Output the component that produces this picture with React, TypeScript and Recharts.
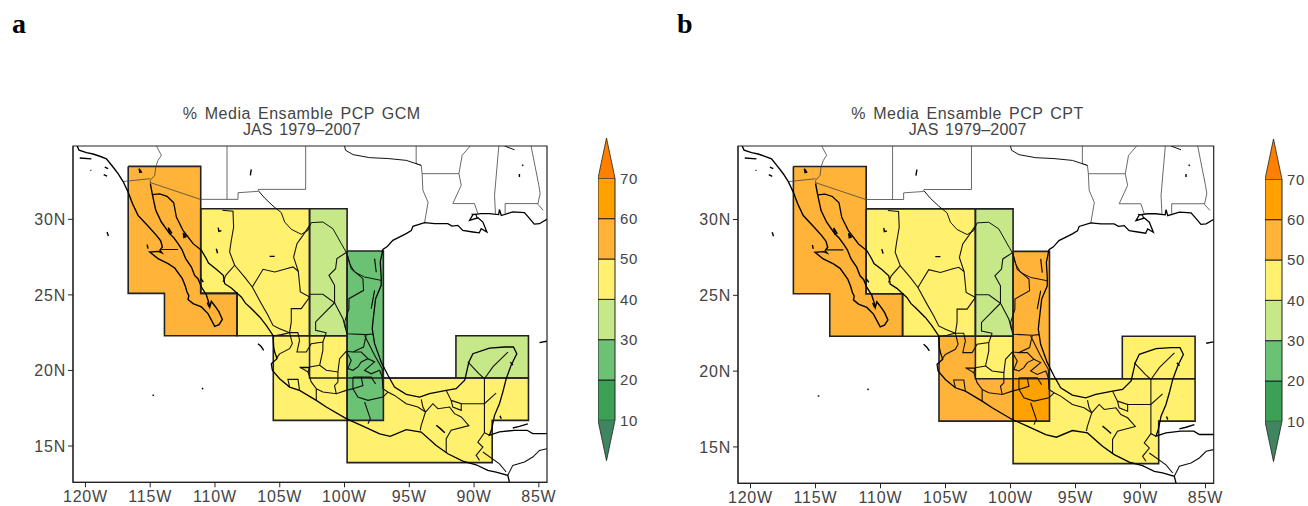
import React from "react";
import { ComposedChart, XAxis, YAxis, Line, Area, ReferenceArea } from "recharts";

type P = [number, number];

const lonTicks = [-120, -115, -110, -105, -100, -95, -90, -85];
const latTicks = [15, 20, 25, 30];
const levelTicks = [10, 20, 30, 40, 50, 60, 70];
const lonDomain: P = [-120.96, -84.37];
const latDomain: P = [12.6, 34.85];

const ORANGE = "#ffb338";
const DEEP = "#ffa200";
const YELLOW = "#fff06e";
const LGREEN = "#c6e888";
const GREEN = "#6cc274";
const DGREEN = "#3ca055";

// colour bands: lower level, upper level, colour
const bandLevels: P[] = [[10, 20], [20, 30], [30, 40], [40, 50], [50, 60], [60, 70]];
const bandColors = [DGREEN, GREEN, LGREEN, YELLOW, ORANGE, DEEP];
const tipHigh = [{ x: 0, v: 70 }, { x: 0.5, v: 80 }, { x: 1, v: 70 }];
const tipLow = [{ x: 0, v: 10 }, { x: 0.5, v: 0 }, { x: 1, v: 10 }];

// region cells: lon0, lon1, lat0, lat1
const cellsNW = [[-116.7, -111.1, 25.1, 33.5], [-113.9, -108.3, 22.3, 25.1]];
const cellsNorth = [[-111.1, -102.7, 25.1, 30.7], [-108.3, -102.7, 22.3, 25.1]];
const cellsEast = [[-102.7, -99.8, 22.3, 30.7]];
const cellsGulf = [[-99.8, -97, 19.5, 27.9]];
const cellsGulfSouth = [[-99.8, -97, 16.7, 19.5]];
const cellsBox = [[-102.7, -99.8, 19.5, 22.3]];
const cellsWest = [[-105.5, -102.7, 16.7, 22.3], [-102.7, -99.8, 16.7, 19.5]];
const cellsSouth = [[-97, -85.8, 16.7, 19.5], [-99.8, -88.6, 13.9, 16.7]];
const cellsYuc = [[-91.4, -85.8, 19.5, 22.3]];
const allCells = [cellsNW, cellsNorth, cellsEast, cellsGulf, cellsGulfSouth, cellsBox, cellsWest, cellsSouth, cellsYuc];
const colorsA = [ORANGE, YELLOW, LGREEN, GREEN, GREEN, YELLOW, YELLOW, YELLOW, LGREEN];
const colorsB = [ORANGE, YELLOW, LGREEN, ORANGE, DEEP, YELLOW, ORANGE, YELLOW, YELLOW];

const outlines: P[][] = [
  [[-116.7, 33.5], [-111.1, 33.5], [-111.1, 25.1], [-108.3, 25.1], [-108.3, 22.3], [-113.9, 22.3], [-113.9, 25.1], [-116.7, 25.1], [-116.7, 33.5]],
  [[-111.1, 30.7], [-102.7, 30.7], [-102.7, 22.3], [-108.3, 22.3], [-108.3, 25.1], [-111.1, 25.1], [-111.1, 30.7]],
  [[-102.7, 30.7], [-99.8, 30.7], [-99.8, 22.3], [-102.7, 22.3], [-102.7, 30.7]],
  [[-99.8, 27.9], [-97, 27.9], [-97, 16.7], [-99.8, 16.7], [-99.8, 27.9]],
  [[-105.5, 22.3], [-99.8, 22.3], [-99.8, 16.7], [-105.5, 16.7], [-105.5, 22.3]],
  [[-102.7, 22.3], [-102.7, 19.5], [-85.8, 19.5]],
  [[-97, 19.5], [-85.8, 19.5], [-85.8, 16.7], [-88.6, 16.7], [-88.6, 13.9], [-99.8, 13.9], [-99.8, 16.7]],
  [[-91.4, 19.5], [-91.4, 22.3], [-85.8, 22.3], [-85.8, 19.5]],
];

// coast lines
const pacificCoast: P[] = [[-120.64, 34.85], [-120.49, 34.57], [-119.92, 34.41], [-119.41, 34.32], [-118.89, 34.17], [-118.38, 34], [-117.87, 33.46], [-117.48, 33.02], [-117.09, 32.5], [-116.71, 31.81], [-116.37, 31.04], [-115.94, 30.26], [-115.17, 29.56], [-114.52, 28.94], [-114.19, 28.57], [-114.06, 28.17], [-114.25, 27.95], [-114.1, 27.78], [-114.37, 27.88], [-115.04, 27.84], [-114.4, 27.4], [-113.62, 27.07], [-113.11, 26.78], [-112.52, 26.07], [-112.3, 25.6], [-112.16, 25.19], [-112.02, 24.95], [-112.08, 24.7], [-111.69, 24.42], [-111.05, 24.2], [-110.54, 23.76], [-110.02, 22.92], [-109.69, 23.03], [-109.43, 23.38], [-109.69, 23.87], [-109.95, 24.2], [-110.28, 24.57], [-110.4, 24.2], [-110.5, 24.55], [-110.67, 25.01], [-111.05, 25.52], [-111.3, 26.05], [-111.57, 26.29], [-111.82, 26.84], [-112.26, 27.4], [-112.55, 28], [-112.85, 28.39], [-113.2, 28.8], [-113.5, 29.05], [-114.14, 29.82], [-114.57, 30.59], [-114.83, 31.63], [-114.99, 32.36]];
const mainlandCoast: P[] = [[-114.83, 31.63], [-114.27, 31.68], [-113.7, 31.52], [-113.19, 31.1], [-113.1, 30.7], [-112.98, 30.15], [-112.47, 29.27], [-112.08, 28.83], [-111.69, 28.39], [-111.05, 27.95], [-110.67, 27.4], [-110.5, 27.1], [-109.9, 26.7], [-109.36, 26.29], [-109.25, 25.74], [-108.74, 25.46], [-107.97, 24.86], [-107.65, 24.45], [-107.32, 24.2], [-106.55, 23.54], [-106.04, 22.98], [-105.52, 22.32], [-105.47, 21.55], [-105.39, 21.22], [-105.21, 20.78], [-105.65, 20.45], [-105.57, 20.01], [-105.01, 19.45], [-104.24, 18.9], [-103.47, 18.68], [-102.18, 18.02], [-101.41, 17.58], [-99.87, 16.81], [-98.71, 16.37], [-97.29, 15.81], [-96.47, 15.64], [-95.24, 16.08], [-94.08, 15.92], [-92.92, 15.04], [-92.02, 14.49], [-90.87, 14], [-89.84, 13.76], [-88.94, 13.39], [-88.3, 13.28], [-87.4, 13.06], [-87.27, 12.62]];
const gulfCoast: P[] = [[-84.39, 30], [-84.95, 29.71], [-85.35, 29.68], [-85.59, 29.93], [-86.11, 30.44], [-87.01, 30.49], [-87.9, 30.25], [-88.04, 30.65], [-88.1, 30.31], [-88.81, 30.38], [-89.45, 30.38], [-90.09, 30.31], [-90.35, 29.93], [-89.7, 30.1], [-89.32, 29.82], [-89.01, 29.16], [-89.45, 29.38], [-89.6, 29.1], [-90.09, 29.16], [-90.87, 29.27], [-91.25, 29.6], [-91.7, 29.55], [-92.03, 29.71], [-93.05, 29.71], [-93.82, 29.78], [-94.72, 29.54], [-94.85, 29.25], [-95.24, 29.05], [-96.27, 28.61], [-96.7, 28.2], [-97.04, 28.01], [-97.24, 27.18], [-97.17, 26.18], [-97.17, 25.63], [-97.6, 24.75], [-97.81, 23.21], [-97.86, 22.76], [-97.68, 21.77], [-97.17, 20.56], [-96.65, 19.68], [-96.14, 18.9], [-95.24, 18.42], [-94.21, 18.24], [-93.44, 18.46], [-92.15, 18.68], [-91.38, 18.79], [-90.72, 19.35], [-90.4, 20.56], [-90.09, 21.11], [-88.81, 21.48], [-87.65, 21.55], [-86.96, 21.55], [-86.7, 21.1], [-87.14, 20.34], [-87.52, 19.45], [-87.78, 18.57], [-88.04, 17.8], [-88.42, 17.03], [-88.63, 16.15], [-88.81, 15.71], [-88.04, 15.93], [-86.9, 16.04], [-85.9, 16.04], [-85.47, 15.82], [-84.39, 15.82]];
const lagoons: P[][] = [
  [[-97.68, 27.4], [-97.55, 26.5]],
  [[-97.68, 25.3], [-97.94, 24.09]],
  [[-90.2, 30.35], [-89.85, 30.3], [-89.75, 30.05]],
];

// small islands and lakes
const islands: P[][] = [
  [[-120.44, 34.06], [-119.54, 34]],
  [[-118.51, 33.46], [-118.25, 33.35]],
  [[-118.59, 32.96], [-118.33, 32.85]],
  [[-119.61, 33.26], [-119.55, 33.23]],
  [[-118.33, 29.16], [-118.23, 28.9]],
  [[-110.99, 18.84], [-110.92, 18.75]],
  [[-114.83, 18.37], [-114.7, 18.35]],
  [[-106.68, 21.77], [-106.45, 21.6], [-106.24, 21.33]],
  [[-115.24, 28.32], [-115.17, 28.06]],
  [[-113.6, 29.45], [-113.35, 29.1], [-113.5, 29.05], [-113.6, 29.45]],
  [[-112.45, 29.1], [-112.25, 28.85], [-112.4, 28.8], [-112.45, 29.1]],
  [[-111.1, 26.1], [-110.9, 25.85]],
  [[-110.6, 24.5], [-110.45, 24.2]],
  [[-107.2, 33.3], [-107.27, 32.9]],
  [[-86.3, 33.6], [-86.2, 33.55]],
  [[-86.5, 33.0], [-86.5, 32.8]],
  [[-105.78, 27.55], [-105.39, 27.55]],
  [[-109.75, 29.45], [-109.7, 29.2], [-109.5, 29.25]],
  [[-109.9, 28.05], [-109.8, 27.75]],
  [[-115.86, 33.35], [-115.68, 33.13], [-115.8, 33.1], [-115.86, 33.35]],
  [[-103.4, 20.2], [-102.7, 20.2]],
  [[-92.92, 16.37], [-92.6, 16.15], [-92.26, 15.88]],
  [[-87.01, 16.19], [-86.5, 16.3], [-85.85, 16.47]],
  [[-84.95, 21.84], [-84.39, 21.93]],
  [[-87.2, 20.55], [-87.0, 20.35]],
  [[-88.0, 17.0], [-87.9, 16.8]],
];

// international and US state borders
const usBorders: P[][] = [
  [[-114.52, 34.85], [-114.14, 34.23], [-114.4, 33.9], [-114.57, 33.46], [-114.65, 32.91], [-114.99, 32.58], [-114.99, 32.36]],
  [[-117.09, 32.5], [-114.99, 32.69]],
  [[-114.99, 32.43], [-111.13, 31.32], [-108.22, 31.32], [-108.22, 31.76], [-106.68, 31.85]],
  [[-109.07, 34.85], [-109.07, 31.32]],
  [[-103, 34.85], [-103, 31.98], [-106.68, 31.98]],
  [[-94.47, 34.85], [-94.47, 33.68], [-94.08, 33.57], [-94.01, 33.02], [-93.95, 31.92], [-93.55, 31.13], [-93.82, 29.78]],
  [[-94.01, 33.02], [-91.17, 33.02]],
  [[-90.3, 34.85], [-90.92, 34.23], [-91.17, 33.02], [-90.99, 32.25], [-91.64, 31.04], [-89.97, 31.04], [-89.71, 30.38]],
  [[-88.09, 34.85], [-88.42, 31.59], [-88.35, 30.38]],
  [[-85.6, 34.85], [-85, 32.25], [-84.9, 31.7], [-85.08, 31], [-84.66, 30.6]],
  [[-87.6, 30.38], [-87.6, 31.04], [-85.08, 31.04]],
];
const riverBorders: P[][] = [
  [[-106.68, 31.92], [-106.17, 31.41], [-105.52, 30.88], [-104.88, 30.44], [-104.62, 29.82], [-104.11, 29.34], [-103.34, 29.01], [-102.82, 29.27], [-102.57, 29.78], [-101.67, 29.82], [-100.9, 29.38], [-100.25, 28.39], [-99.81, 27.73], [-99.61, 27.07], [-99.22, 26.51], [-98.45, 26.18], [-97.17, 25.96]],
  [[-100, 34.85], [-99.92, 34.57], [-99.35, 34.28], [-98.07, 34.08], [-96.65, 34.02], [-95.24, 33.9], [-94.08, 33.57]],
  [[-87.65, 34.85], [-86.88, 34.6]],
];

// Mexican states and Central American borders
const stateLines: P[][] = [
  [[-109.43, 30.6], [-108.61, 30.53], [-108.56, 29.49], [-108.76, 28.5], [-108.87, 27.84], [-108.48, 26.96], [-109.17, 26.29], [-109.38, 25.85]],
  [[-108.48, 26.96], [-107.71, 26.18], [-107.12, 25.52], [-106.42, 24.42], [-105.91, 23.65], [-105.52, 22.98], [-105.01, 22.76], [-104.24, 22.5]],
  [[-107.12, 25.52], [-106.29, 26.69], [-105.39, 26.51], [-104.49, 26.73], [-103.98, 26.85], [-103.57, 26.56]],
  [[-102.69, 29.6], [-103.21, 28.94], [-103.67, 28.39], [-103.93, 27.5], [-103.57, 26.56], [-103.41, 25.19], [-102.69, 24.86], [-103.34, 24.09], [-104.11, 24.09], [-104.11, 23.21], [-104.24, 22.5]],
  [[-102.69, 25.04], [-101.67, 25.04], [-100.77, 24.48], [-102.23, 23.21], [-102.23, 22.65], [-101.41, 22.5]],
  [[-99.87, 27.8], [-100.59, 27.4], [-100.69, 26.73], [-101.2, 26.29], [-100.77, 25.63], [-100.77, 24.48], [-100.12, 23.42], [-99.92, 22.76]],
  [[-99.81, 27.73], [-99.48, 26.73], [-98.58, 26.07], [-98.53, 25.3], [-99.66, 24.75], [-99.66, 24.09], [-99.99, 23.21], [-99.92, 22.76], [-99.81, 22.43], [-98.32, 22.37], [-97.81, 22.41]],
  [[-105.52, 22.28], [-104.88, 22.37], [-104.24, 22.5], [-104.03, 21.77], [-104.24, 21.44], [-105.01, 21.1], [-105.27, 20.78]],
  [[-104.24, 22.5], [-103.6, 22.5], [-103.47, 22], [-103.67, 21.22], [-102.95, 21.22], [-102.57, 21.77], [-101.67, 21.88], [-101.41, 22.5]],
  [[-101.67, 21.88], [-101.67, 21.33], [-101.92, 20.34], [-101.41, 20.01], [-100.51, 19.9], [-100.38, 20.78], [-99.87, 21.26]],
  [[-101.92, 20.34], [-102.69, 20.23], [-102.82, 19.9], [-103.47, 20.23]],
  [[-102.82, 19.9], [-102.57, 19.24], [-102.18, 18.79], [-102.18, 18.02]],
  [[-104.24, 18.9], [-104.37, 19.41], [-103.59, 19.41], [-103.47, 18.68]],
  [[-102.18, 18.79], [-101.67, 18.57], [-100.64, 18.46], [-100.77, 19], [-100.51, 19.23], [-100.51, 19.9]],
  [[-100.64, 18.46], [-99.87, 18.68], [-99.35, 18.79], [-98.97, 18.24], [-98.19, 18.02], [-97.04, 18.24], [-96.65, 18.57]],
  [[-98.45, 17.91], [-98.01, 16.81], [-98.19, 16.47]],
  [[-99.87, 21.26], [-99.48, 20.67], [-99.74, 20.12], [-99.35, 20.01], [-98.97, 20.23], [-98.71, 20.56], [-98.19, 20.78], [-97.68, 20.56], [-98.45, 20.01], [-97.94, 19.78], [-97.29, 20.01], [-97.09, 19.56]],
  [[-98.32, 22.37], [-98.53, 21.55], [-99.35, 21.22], [-99.87, 21.26]],
  [[-99.35, 21.22], [-98.71, 21.22], [-98.19, 20.78]],
  [[-98.45, 22.32], [-97.68, 21], [-97.09, 20.12], [-97.09, 19.56], [-97.04, 18.79], [-96.65, 18.57], [-96.14, 18.35], [-95.24, 17.8], [-94.34, 17.58], [-93.75, 17.25], [-94.08, 16.37], [-94.16, 16.04]],
  [[-99.35, 19.56], [-98.71, 19.56], [-98.58, 19], [-99.35, 18.79], [-99.35, 19.56]],
  [[-98.71, 19.56], [-97.94, 19.56], [-97.6, 19.1]],
  [[-93.75, 17.25], [-93.18, 17.8], [-92.79, 17.47], [-91.89, 17.58], [-91.51, 17.14], [-90.99, 16.92], [-90.4, 16.35], [-91.77, 16.04], [-92.15, 15.49], [-92.15, 14.56]],
  [[-94.08, 18.09], [-93.95, 17.58], [-93.75, 17.25]],
  [[-92.15, 18.68], [-91.77, 18.02], [-91.64, 17.58], [-90.99, 17.36], [-90.99, 17.8], [-91.77, 18.02]],
  [[-90.48, 20.56], [-89.63, 19.79], [-89.2, 19.45], [-88.55, 20.23], [-87.39, 21.21]],
  [[-89.2, 19.45], [-89.2, 15.88], [-88.81, 15.71]],
  [[-90.99, 17.8], [-89.2, 17.8], [-88.3, 18.5]],
  [[-89.2, 15.88], [-89.71, 15.26], [-89.32, 14.93], [-89.84, 14.38], [-89.58, 14.05]],
  [[-89.32, 14.6], [-88.04, 13.82], [-87.52, 13.28]],
  [[-87.4, 13.06], [-87.01, 13.72], [-86.11, 13.94], [-85.47, 14.27], [-84.95, 14.71], [-84.39, 14.82]],
  [[-114.14, 28], [-112.85, 28]],
];

const FONT = "'Liberation Sans', sans-serif";
const INK = "#444";

const toPts = (pts: P[]) => pts.map(([lon, lat]) => ({ lon, lat }));

function polyLine(key: string, pts: P[], stroke: string, width: number) {
  return (
    <Line
      key={key}
      data={toPts(pts)}
      dataKey="lat"
      stroke={stroke}
      strokeWidth={width}
      dot={false}
      activeDot={false}
      isAnimationActive={false}
      legendType="none"
    />
  );
}

function MapPanel({ left, width, height, colors, title }: { left: number; width: number; height: number; colors: string[]; title: string }) {
  const yW = 40;
  const xH = 24;
  return (
    <div style={{ position: "absolute", left: left - yW, top: 146 - 6, width: width + yW + 12, height: height + 6 + xH }}>
      <ComposedChart width={width + yW + 12} height={height + 6 + xH} margin={{ top: 6, right: 12, bottom: 0, left: 0 }}>
        <XAxis
          dataKey="lon"
          type="number"
          domain={lonDomain}
          ticks={lonTicks}
          allowDataOverflow
          height={xH}
          interval={0}
          tickSize={5}
          tickMargin={3}
          stroke="#222"
          tick={{ fill: INK, fontSize: 16, fontFamily: FONT, letterSpacing: 0.8 }}
          tickFormatter={(v: number) => `${-v}W`}
        />
        <YAxis
          dataKey="lat"
          type="number"
          domain={latDomain}
          ticks={latTicks}
          allowDataOverflow
          width={yW}
          tickSize={5}
          stroke="#222"
          tick={{ fill: INK, fontSize: 16, fontFamily: FONT, letterSpacing: 0.8 }}
          tickFormatter={(v: number) => `${v}N`}
        />
        {allCells.flatMap((cells, r) =>
          cells.map((c, i) => (
            <ReferenceArea key={`c${r}-${i}`} x1={c[0]} x2={c[1]} y1={c[2]} y2={c[3]} fill={colors[r]} fillOpacity={1} stroke="none" shapeRendering="crispEdges" />
          ))
        )}
        {outlines.map((o, i) => polyLine(`o${i}`, o, "#222", 1.6))}
        {usBorders.map((o, i) => polyLine(`u${i}`, o, "#444", 0.8))}
        {riverBorders.map((o, i) => polyLine(`r${i}`, o, "#111", 1))}
        {stateLines.map((o, i) => polyLine(`s${i}`, o, "#111", 1.1))}
        {polyLine("pc", pacificCoast, "#000", 1.4)}
        {polyLine("mc", mainlandCoast, "#000", 1.3)}
        {polyLine("gc", gulfCoast, "#000", 1.3)}
        {lagoons.map((o, i) => polyLine(`l${i}`, o, "#000", 1.1))}
        {islands.map((o, i) => polyLine(`i${i}`, o, "#000", 1.4))}
        <ReferenceArea x1={lonDomain[0]} x2={lonDomain[1]} y1={latDomain[0]} y2={latDomain[1]} fill="none" stroke="#222" strokeWidth={1.2} />
      </ComposedChart>
      <div style={{ position: "absolute", left: yW - 8.5, width, top: -34, textAlign: "center", fontFamily: FONT, fontSize: 16, lineHeight: "16px", color: INK, letterSpacing: 0.55, wordSpacing: 2 }}>
        <div>{title}</div>
        <div style={{ letterSpacing: 0.15 }}>JAS 1979–2007</div>
      </div>
    </div>
  );
}

function ColorBar({ left, top }: { left: number; top: number }) {
  const w = 17;
  const h = 322.7;
  return (
    <div style={{ position: "absolute", left, top }}>
      <ComposedChart width={w + 28} height={h + 4} margin={{ top: 2, right: 0, bottom: 2, left: 0 }}>
        <XAxis dataKey="x" type="number" domain={[0, 1]} hide />
        <YAxis
          dataKey="v"
          type="number"
          orientation="right"
          domain={[0, 80]}
          ticks={levelTicks}
          width={28}
          axisLine={false}
          tickLine={false}
          tickSize={5}
          tickMargin={0}
          tick={{ fill: INK, fontSize: 15, fontFamily: FONT, letterSpacing: 0.6 }}
        />
        {bandLevels.map((b, i) => (
          <ReferenceArea key={i} x1={0} x2={1} y1={b[0]} y2={b[1]} fill={bandColors[i]} fillOpacity={1} stroke="#222" strokeWidth={1} />
        ))}
        <Area data={tipHigh} dataKey="v" baseValue={70} fill="#ff7f00" fillOpacity={1} stroke="#222" strokeWidth={0.8} dot={false} activeDot={false} isAnimationActive={false} legendType="none" />
        <Area data={tipLow} dataKey="v" baseValue={10} fill="#3f8560" fillOpacity={1} stroke="#222" strokeWidth={0.8} dot={false} activeDot={false} isAnimationActive={false} legendType="none" />
      </ComposedChart>
    </div>
  );
}

const letterStyle: React.CSSProperties = { position: "absolute", top: 6, fontFamily: "'Liberation Serif', serif", fontWeight: 700, fontSize: 28, lineHeight: "36px", color: "#000" };

export default function App() {
  return (
    <div style={{ position: "absolute", left: 0, top: 0, width: 1308, height: 506, background: "#fff", overflow: "hidden" }}>
      <div style={{ ...letterStyle, left: 12 }}>a</div>
      <div style={{ ...letterStyle, left: 677 }}>b</div>
      <MapPanel left={73.3} width={474} height={336.3} colors={colorsA} title="% Media Ensamble PCP GCM" />
      <MapPanel left={738.3} width={475.7} height={337.3} colors={colorsB} title="% Media Ensamble PCP CPT" />
      <ColorBar left={598} top={136} />
      <ColorBar left={1265} top={137} />
    </div>
  );
}
